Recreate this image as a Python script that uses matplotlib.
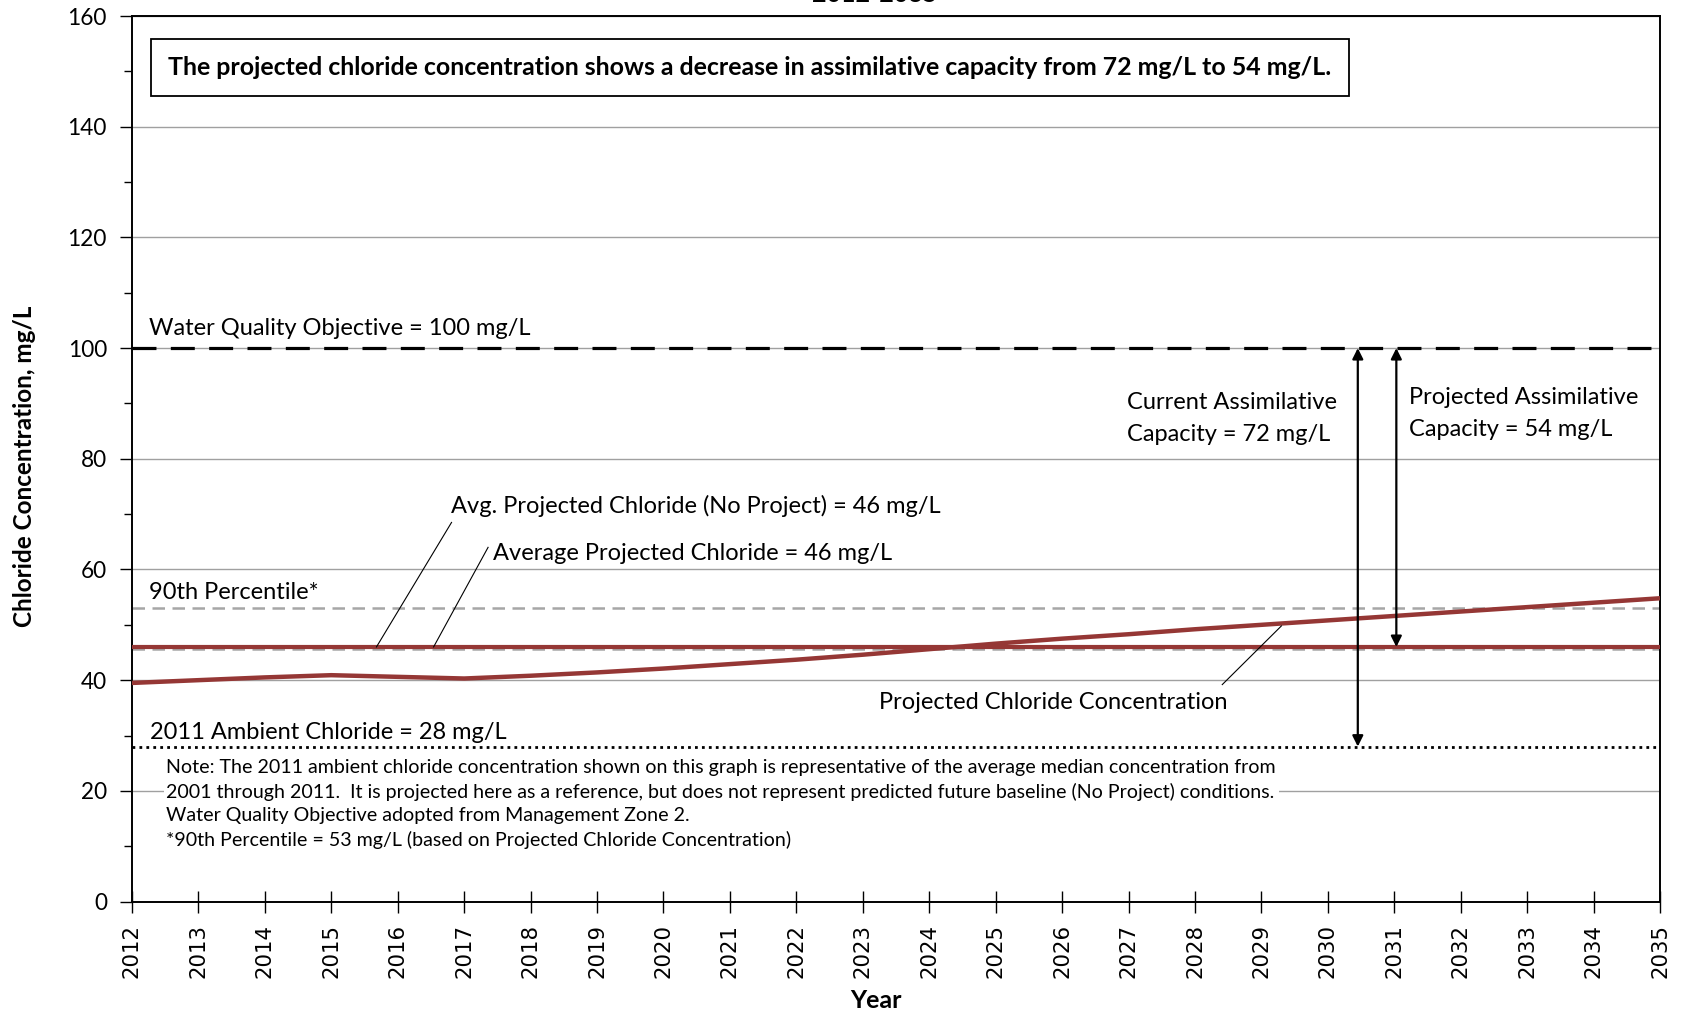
import matplotlib
matplotlib.use("Agg")
import matplotlib.pyplot as plt
from matplotlib.ticker import MultipleLocator

# データ
years = list(range(2012, 2036))
projected = [39.5, 40.0, 40.5, 40.9, 40.6, 40.3, 40.8, 41.4, 42.1, 42.9, 43.7, 44.6,
             45.6, 46.6, 47.5, 48.3, 49.2, 50.0, 50.8, 51.6, 52.4, 53.2, 54.0, 54.8]
avg_projected = 46.0
avg_no_project = 45.6
pct90 = 53.0
wqo = 100.0
ambient_2011 = 28.0
current_arrow_x = 2030.45
projected_arrow_x = 2031.03

plt.rcParams['font.family'] = ['Lato', 'DejaVu Sans']

red = '#953735'

fig = plt.figure( figsize=( 16.83, 10.14 ), dpi=100 )
ax = fig.add_axes( [0.0784, 0.1109, 0.9080, 0.8733] )

ax.set_xlim( 2012, 2035 )
ax.set_ylim( 0, 160 )

# グリッド
ax.yaxis.set_major_locator( MultipleLocator( 20 ) )
ax.yaxis.set_minor_locator( MultipleLocator( 10 ) )
ax.grid( axis='y', which='major', color='#a0a0a0', linewidth=1.0, zorder=0 )

# 線
ax.plot( years, [avg_no_project] * len( years ), color='#a6a6a6', linestyle=( 0, ( 5, 3 ) ), linewidth=1.8, zorder=2 )
ax.plot( years, [pct90] * len( years ), color='#a6a6a6', linestyle=( 0, ( 5, 3 ) ), linewidth=1.8, zorder=2 )
ax.plot( years, [avg_projected] * len( years ), color=red, linewidth=3.0, zorder=3 )
ax.plot( years, projected, color=red, linewidth=3.2, zorder=4 )
ax.plot( years, [wqo] * len( years ), color='black', linestyle=( 0, ( 7.5, 4.5 ) ), linewidth=2.3, zorder=3 )
ax.plot( years, [ambient_2011] * len( years ), color='black', linestyle=( 0, ( 1, 1.5 ) ), linewidth=2.0, zorder=3 )

# 矢印
arrow_props = dict( arrowstyle='<|-|>', color='black', lw=1.6, mutation_scale=16, shrinkA=0, shrinkB=0 )
ax.annotate( '', xy=( current_arrow_x, ambient_2011 ), xytext=( current_arrow_x, wqo ), arrowprops=arrow_props, zorder=5 )
ax.annotate( '', xy=( projected_arrow_x, avg_projected ), xytext=( projected_arrow_x, wqo ), arrowprops=arrow_props, zorder=5 )

# ラベル
fs = 17
ax.text( 2012.26, 103.6, 'Water Quality Objective = 100 mg/L', fontsize=fs, va='center' )
ax.text( 2012.26, 55.9, '90th Percentile*', fontsize=fs, va='center' )
ax.text( 2012.27, 30.6, '2011 Ambient Chloride = 28 mg/L', fontsize=fs, va='center' )
ax.text( 2016.8, 71.4, 'Avg. Projected Chloride (No Project) = 46 mg/L', fontsize=fs, va='center' )
ax.text( 2017.44, 62.8, 'Average Projected Chloride = 46 mg/L', fontsize=fs, va='center' )
ax.text( 2023.24, 35.9, 'Projected Chloride Concentration', fontsize=fs, va='center' )
ax.text( 2026.98, 87.2, 'Current Assimilative\nCapacity = 72 mg/L', fontsize=fs, va='center', linespacing=1.65 )
ax.text( 2031.22, 88.1, 'Projected Assimilative\nCapacity = 54 mg/L', fontsize=fs, va='center', linespacing=1.65 )

# 引き出し線
ax.plot( [2016.81, 2015.68], [68.5, 46.0], color='black', linewidth=0.8, zorder=5 )
ax.plot( [2017.36, 2016.54], [64.0, 46.0], color='black', linewidth=0.8, zorder=5 )
ax.plot( [2028.41, 2029.30], [39.2, 49.8], color='black', linewidth=0.8, zorder=5 )

# 注記
note = ( "Note: The 2011 ambient chloride concentration shown on this graph is representative of the average median concentration from\n"
         "2001 through 2011.  It is projected here as a reference, but does not represent predicted future baseline (No Project) conditions.\n"
         "Water Quality Objective adopted from Management Zone 2.\n"
         "*90th Percentile = 53 mg/L (based on Projected Chloride Concentration)" )
ax.text( 2012.52, 25.8, note, fontsize=14.1, va='top', linespacing=1.45,
         bbox=dict( facecolor='white', edgecolor='none', pad=2 ), zorder=6 )

# 上部の枠付きテキスト
ax.text( 0.0239, 0.9418, 'The projected chloride concentration shows a decrease in assimilative capacity from 72 mg/L to 54 mg/L.',
         transform=ax.transAxes, fontsize=17.9, fontweight='bold', ha='left', va='center',
         bbox=dict( facecolor='white', edgecolor='black', linewidth=1.3, boxstyle='square,pad=0.7' ), zorder=6 )

# 軸
ax.set_xticks( years )
ax.set_xticklabels( [str( y ) for y in years], rotation=90, fontsize=15.3, family='DejaVu Sans' )
ax.tick_params( axis='x', direction='inout', length=16, width=1.0, pad=8 )
ax.tick_params( axis='y', which='major', direction='out', length=9, width=1.0, labelsize=16.3, pad=9 )
ax.tick_params( axis='y', which='minor', direction='out', length=6, width=1.0 )
for s in ax.spines.values():
    s.set_linewidth( 1.4 )

ax.set_ylabel( 'Chloride Concentration, mg/L', fontsize=17.5, fontweight='bold' )
ax.yaxis.set_label_coords( -0.063, 0.492 )
ax.set_xlabel( 'Year', fontsize=18, fontweight='bold' )
ax.xaxis.set_label_coords( 0.487, -0.099 )

fig.text( 0.52, 0.994, '2012-2035', fontsize=18, fontweight='bold', ha='center', va='bottom' )

fig.savefig( 'out.png', dpi=100 )
